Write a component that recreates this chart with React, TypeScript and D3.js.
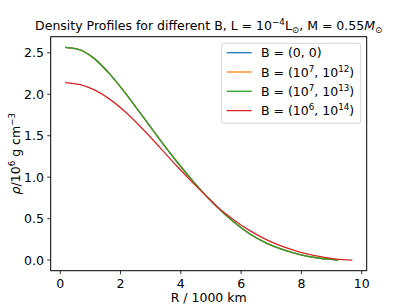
import React from "react";
import * as d3 from "d3";

const radiusB0 = [0.16, 0.66, 1.10, 1.66, 2.21, 2.76, 3.31, 3.86, 4.41, 4.97, 5.19, 5.74, 6.29, 6.84, 7.39, 7.95, 8.50, 9.05, 9.22];
const densityB0 = [2.566, 2.536, 2.439, 2.237, 1.99, 1.72, 1.451, 1.192, 0.95, 0.726, 0.645, 0.464, 0.315, 0.205, 0.125, 0.066, 0.028, 0.006, 0.0];
const radiusB3 = [0.16, 0.66, 1.10, 1.66, 2.21, 2.76, 3.31, 3.86, 4.41, 4.97, 5.19, 5.74, 6.29, 6.84, 7.39, 7.95, 8.50, 9.05, 9.40, 9.69];
const densityB3 = [2.14, 2.115, 2.058, 1.935, 1.77, 1.572, 1.357, 1.137, 0.928, 0.727, 0.65, 0.49, 0.355, 0.246, 0.161, 0.097, 0.05, 0.018, 0.005, 0.0];

const xTicks = [0, 2, 4, 6, 8, 10];
const yTicks = [0.0, 0.5, 1.0, 1.5, 2.0, 2.5];

type Seg = { t: string; sup?: boolean; sub?: boolean; it?: boolean };

const series: { label: Seg[]; color: string; r: number[]; rho: number[] }[] = [
  { label: [{ t: "B = (0, 0)" }], color: "#1f77b4", r: radiusB0, rho: densityB0 },
  { label: [{ t: "B = (10" }, { t: "7", sup: true }, { t: ", 10" }, { t: "12", sup: true }, { t: ")" }], color: "#ff7f0e", r: radiusB0, rho: densityB0 },
  { label: [{ t: "B = (10" }, { t: "7", sup: true }, { t: ", 10" }, { t: "13", sup: true }, { t: ")" }], color: "#2ca02c", r: radiusB0, rho: densityB0 },
  { label: [{ t: "B = (10" }, { t: "6", sup: true }, { t: ", 10" }, { t: "14", sup: true }, { t: ")" }], color: "#d62728", r: radiusB3, rho: densityB3 },
];

const titleSegs: Seg[] = [
  { t: "Density Profiles for different B, L = 10" },
  { t: "−4", sup: true },
  { t: "L" },
  { t: "⊙", sub: true },
  { t: ", M = 0.55" },
  { t: "M", it: true },
  { t: "⊙", sub: true },
];
const yLabelSegs: Seg[] = [
  { t: "ρ", it: true },
  { t: "/10" },
  { t: "6", sup: true },
  { t: " g cm" },
  { t: "−3", sup: true },
];

function renderSegs(segs: Seg[], fs: number) {
  let shift = 0;
  return segs.map((s, i) => {
    const target = s.sup ? -0.4 * fs : s.sub ? 0.2 * fs : 0;
    const dy = target - shift;
    shift = target;
    return (
      <tspan
        key={i}
        dy={dy}
        fontSize={s.sup || s.sub ? fs * 0.7 : fs}
        fontStyle={s.it ? "italic" : "normal"}
      >
        {s.t}
      </tspan>
    );
  });
}

export default function App() {
  const W = 407, H = 305;
  const L = 50.7, R = 366.7, T = 36.7, B = 270.7;
  const allR = [...radiusB0, ...radiusB3];
  const allD = [...densityB0, ...densityB3];
  const [xmin, xmax] = d3.extent(allR) as [number, number];
  const [ymin, ymax] = d3.extent(allD) as [number, number];
  const xm = (xmax - xmin) * 0.05, ym = (ymax - ymin) * 0.05;
  const x = d3.scaleLinear().domain([xmin - xm, xmax + xm]).range([L, R]);
  const y = d3.scaleLinear().domain([ymin - ym, ymax + ym]).range([B, T]);
  const line = d3
    .line<[number, number]>()
    .x((d) => x(d[0]))
    .y((d) => y(d[1]))
    .curve(d3.curveMonotoneX);
  const fs = 12.5;
  const font = "DejaVu Sans";
  const legX = 221.7, legY = 43.3, legW = 139, legH = 80;
  return (
    <svg width={W} height={H} style={{ position: "absolute", left: 0, top: 0 }} fontFamily={font}>
      <rect x={0} y={0} width={W} height={H} fill="white" />
      {series.map((s, i) => (
        <path
          key={i}
          d={line(s.r.map((r, j) => [r, s.rho[j]] as [number, number])) || ""}
          fill="none"
          stroke={s.color}
          strokeWidth={1.3}
        />
      ))}
      <rect x={L} y={T} width={R - L} height={B - T} fill="none" stroke="black" strokeWidth={1} />
      {xTicks.map((t) => (
        <g key={t}>
          <line x1={x(t)} x2={x(t)} y1={B} y2={B + 3.5} stroke="black" strokeWidth={0.8} />
          <text x={x(t)} y={287.5} textAnchor="middle" fontSize={fs} fill="black">
            {t}
          </text>
        </g>
      ))}
      {yTicks.map((t) => (
        <g key={t}>
          <line x1={L - 3.5} x2={L} y1={y(t)} y2={y(t)} stroke="black" strokeWidth={0.8} />
          <text x={44} y={y(t) + 4.5} textAnchor="end" fontSize={fs} fill="black">
            {t.toFixed(1)}
          </text>
        </g>
      ))}
      <text x={(L + R) / 2} y={302} textAnchor="middle" fontSize={fs} fill="black">
        R / 1000 km
      </text>
      <text
        transform={`translate(20, ${(T + B) / 2}) rotate(-90)`}
        textAnchor="middle"
        fontSize={fs}
        fill="black"
      >
        {renderSegs(yLabelSegs, fs)}
      </text>
      <text x={(L + R) / 2} y={30} textAnchor="middle" fontSize={fs} fill="black">
        {renderSegs(titleSegs, fs)}
      </text>
      <rect
        x={legX}
        y={legY}
        width={legW}
        height={legH}
        rx={2}
        fill="white"
        fillOpacity={0.8}
        stroke="#cccccc"
        strokeWidth={0.8}
      />
      {series.map((s, i) => {
        const cy = 52.7 + i * 19.3;
        return (
          <g key={i}>
            <line x1={226.7} x2={251.7} y1={cy} y2={cy} stroke={s.color} strokeWidth={1.3} />
            <text x={261} y={cy + 4.5} fontSize={fs} fill="black">
              {renderSegs(s.label, fs)}
            </text>
          </g>
        );
      })}
    </svg>
  );
}
